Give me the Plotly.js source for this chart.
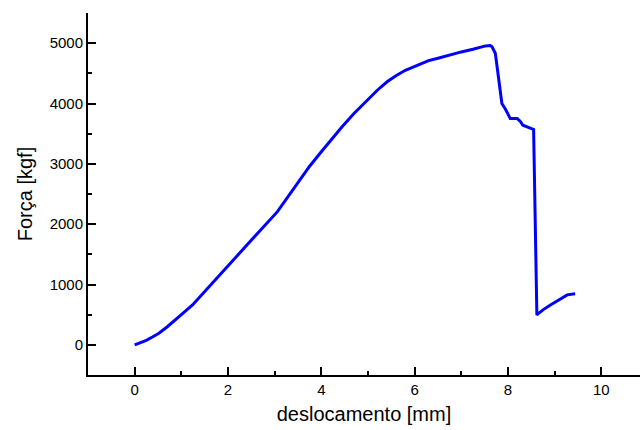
<!DOCTYPE html>
<html>
<head>
<meta charset="utf-8">
<script src="https://cdn.plot.ly/plotly-3.0.1.min.js"></script>
<style>html,body{margin:0;padding:0;background:#fff;}#chart{width:640px;height:430px;}</style>
</head>
<body>
<div id="chart"></div>
<script>
const deslocamento = [0, 0.12, 0.25, 0.38, 0.52, 0.7, 0.88, 1.05, 1.24, 1.4, 1.59, 1.95, 2.31, 2.7, 3.06, 3.25, 3.48, 3.75, 4.0, 4.2, 4.45, 4.7, 5.0, 5.2, 5.41, 5.6, 5.8, 6.0, 6.12, 6.3, 6.5, 6.84, 7.0, 7.25, 7.52, 7.62, 7.66, 7.73, 7.8, 7.87, 7.95, 8.05, 8.2, 8.27, 8.32, 8.55, 8.62, 8.75, 8.91, 9.1, 9.27, 9.44];
const forca = [0, 30, 75, 130, 193, 300, 414, 535, 662, 800, 965, 1270, 1573, 1904, 2207, 2410, 2675, 2960, 3200, 3394, 3620, 3834, 4070, 4220, 4360, 4460, 4550, 4615, 4664, 4710, 4750, 4829, 4855, 4900, 4955, 4960, 4940, 4830, 4400, 4000, 3900, 3750, 3750, 3700, 3640, 3570, 497, 580, 660, 750, 828, 845];
const xTitle = 'deslocamento [mm]';
const yTitle = 'Força [kgf]';

const fam = 'Liberation Sans, Arial, sans-serif';
Plotly.newPlot('chart', [{
  x: deslocamento, y: forca, type: 'scatter', mode: 'lines',
  line: {color: '#0000ff', width: 3}, showlegend: false
}], {
  width: 640, height: 430,
  margin: {l: 88, r: 0, t: 13, b: 55},
  paper_bgcolor: '#fff', plot_bgcolor: '#fff',
  font: {family: fam, color: '#000'},
  xaxis: {
    range: [-1, 10.83], dtick: 2, tick0: 0, showgrid: false, zeroline: false,
    showline: true, linewidth: 2, linecolor: '#000',
    ticks: 'inside', ticklen: 8, tickwidth: 2, tickcolor: '#000',
    minor: {dtick: 1, ticks: 'inside', ticklen: 4, tickwidth: 2, tickcolor: '#000', showgrid: false},
    tickfont: {size: 15, family: fam, color: '#000'},
    title: {text: xTitle, font: {size: 20, family: fam, color: '#000'}, standoff: 10}
  },
  yaxis: {
    range: [-500, 5500], dtick: 1000, tick0: 0, showgrid: false, zeroline: false,
    showline: true, linewidth: 2, linecolor: '#000',
    ticks: 'inside', ticklen: 8, tickwidth: 2, tickcolor: '#000',
    minor: {dtick: 500, ticks: 'inside', ticklen: 4, tickwidth: 2, tickcolor: '#000', showgrid: false},
    tickfont: {size: 15, family: fam, color: '#000'},
    title: {text: yTitle, font: {size: 20, family: fam, color: '#000'}, standoff: 12}
  }
}, {displayModeBar: false, staticPlot: true});
</script>
</body>
</html>
